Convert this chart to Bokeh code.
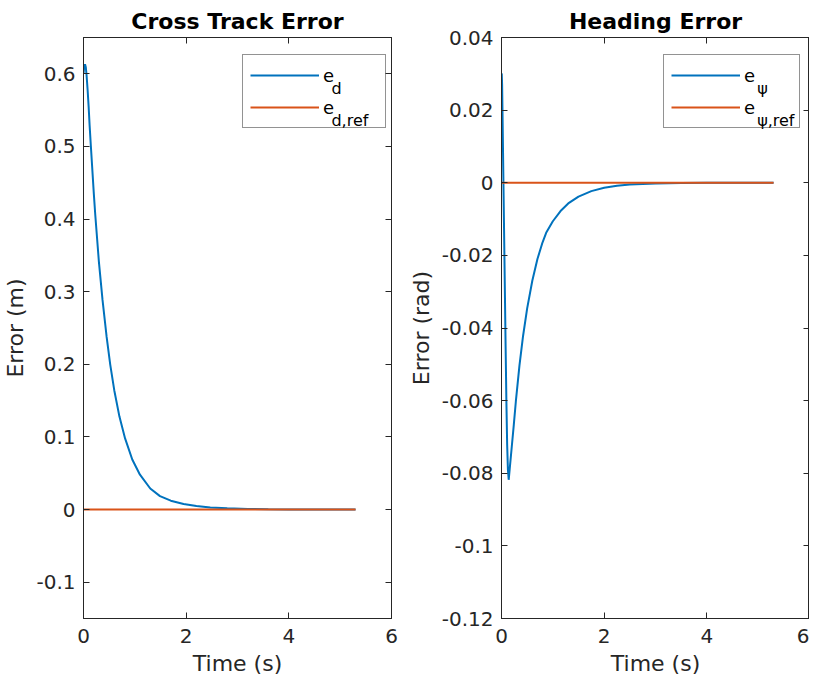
from bokeh.plotting import figure
from bokeh.models import Range1d, FixedTicker, LinearAxis, Legend, LegendItem, Label
from bokeh.layouts import row
from bokeh.embed import file_html
from bokeh.resources import INLINE

# ---------------- data ----------------
time_d = [0, 0.01, 0.02, 0.03, 0.045, 0.06, 0.08, 0.10, 0.12, 0.144, 0.2, 0.228, 0.3,
          0.37, 0.45, 0.52, 0.6, 0.7, 0.81, 0.95, 1.1, 1.3, 1.49, 1.7, 1.95, 2.2, 2.47,
          2.8, 3.2, 3.6, 4.0, 4.5, 5.0, 5.3]
e_d = [0.600, 0.607, 0.611, 0.613, 0.609, 0.598, 0.578, 0.555, 0.528, 0.500, 0.436, 0.407,
       0.341, 0.289, 0.238, 0.200, 0.164, 0.128, 0.098, 0.069, 0.048, 0.029, 0.0185,
       0.0122, 0.0076, 0.0048, 0.003, 0.0017, 0.0008, 0.0004, 0.0002, 0.0001, 0.00005,
       0.00003]

time_psi = [0, 0.005, 0.012, 0.02, 0.035, 0.05, 0.065, 0.08, 0.095, 0.11, 0.125, 0.14,
            0.16, 0.2, 0.24, 0.279, 0.35, 0.42, 0.5, 0.6, 0.7, 0.8, 0.87, 1.0, 1.15, 1.3,
            1.5, 1.75, 2.0, 2.25, 2.5, 3.0, 3.5, 4.0, 4.5, 5.0, 5.3]
e_psi = [0.0300, 0.0300, 0.027, 0.019, 0.003, -0.013, -0.029, -0.045, -0.060, -0.072,
         -0.079, -0.0818, -0.0788, -0.0727, -0.0666, -0.0603, -0.0503, -0.0422, -0.0346,
         -0.0270, -0.0210, -0.0164, -0.0138, -0.0106, -0.0078, -0.0057, -0.0038, -0.0023,
         -0.0014, -0.0008, -0.0005, -0.00018, -0.00006, -0.00002, -0.00001, 0.0, 0.0]

time_ref = [0, 5.3]
e_ref = [0, 0]

x_ticks = [0, 2, 4, 6]
x_labels = ["0", "2", "4", "6"]
yd_ticks = [-0.1, 0.0, 0.1, 0.2, 0.3, 0.4, 0.5, 0.6]
yd_labels = ["-0.1", "0", "0.1", "0.2", "0.3", "0.4", "0.5", "0.6"]
ypsi_ticks = [-0.12, -0.1, -0.08, -0.06, -0.04, -0.02, 0.0, 0.02, 0.04]
ypsi_labels = ["-0.12", "-0.1", "-0.08", "-0.06", "-0.04", "-0.02", "0", "0.02", "0.04"]

BLUE = "#0072BD"
ORANGE = "#D95319"
AX = "#262626"
FONT = "DejaVu Sans"


def style_axis(ax, ticks, labels, show_labels=True, standoff=8):
    ax.ticker = FixedTicker(ticks=ticks)
    ax.major_tick_in = 6
    ax.major_tick_out = 0
    ax.minor_tick_in = 0
    ax.minor_tick_out = 0
    ax.axis_line_color = AX
    ax.major_tick_line_color = AX
    ax.major_label_text_color = AX
    ax.major_label_text_font = FONT
    ax.axis_label_text_font = FONT
    ax.axis_label_text_font_style = "normal"
    ax.axis_label_text_color = AX
    ax.axis_label_text_font_size = "22px"
    if show_labels:
        ax.major_label_overrides = {t: l for t, l in zip(ticks, labels)}
        ax.major_label_text_font_size = "20px"
        ax.major_label_standoff = standoff
        ax.axis_label_standoff = 5
    else:
        ax.major_label_overrides = {t: "" for t in ticks}
        ax.major_label_text_font_size = "0px"
        ax.major_label_standoff = 0


def make_plot(title, t, v, ylabel, yrange, yticks, ylabels, mb_left, mb_right,
              leg_loc, label_width, subs):
    p = figure(frame_width=308, frame_height=581, output_backend="svg",
               toolbar_location=None, x_range=Range1d(0, 6),
               y_range=Range1d(*yrange), min_border_left=mb_left,
               min_border_right=mb_right, min_border_top=37, min_border_bottom=56)
    p.title.text = title
    p.title.text_font = FONT
    p.title.text_font_size = "22px"
    p.title.text_font_style = "bold"
    p.title.align = "center"
    p.title.text_color = "#000000"
    p.title.standoff = 8
    p.xgrid.visible = False
    p.ygrid.visible = False
    p.outline_line_color = AX
    p.outline_line_alpha = 1
    p.background_fill_color = "white"
    p.border_fill_color = "white"

    style_axis(p.xaxis[0], x_ticks, x_labels, standoff=10)
    p.xaxis[0].axis_label = "Time (s)"
    style_axis(p.yaxis[0], yticks, ylabels, standoff=8)
    p.yaxis[0].axis_label = ylabel

    top = LinearAxis()
    style_axis(top, x_ticks, x_labels, show_labels=False)
    p.add_layout(top, "above")
    right = LinearAxis()
    style_axis(right, yticks, ylabels, show_labels=False)
    p.add_layout(right, "right")

    r1 = p.line(t, v, line_color=BLUE, line_width=2)
    r2 = p.line(time_ref, e_ref, line_color=ORANGE, line_width=2)

    leg = Legend(items=[LegendItem(label="e", renderers=[r1]),
                        LegendItem(label="e", renderers=[r2])],
                 location=leg_loc, margin=0, padding=7, spacing=6,
                 glyph_width=69, glyph_height=26, label_height=26,
                 label_width=label_width, label_standoff=4,
                 border_line_color=AX, border_line_width=1,
                 background_fill_color="white", background_fill_alpha=0,
                 label_text_font=FONT, label_text_font_size="18px",
                 label_text_color="#000000")
    p.add_layout(leg)

    for (sx, sy, stext) in subs:
        p.add_layout(Label(x=sx, y=sy, text=stext, text_font=FONT,
                           text_font_size="16px", text_baseline="alphabetic",
                           text_align="left", text_color="#000000",
                           level="overlay"))
    return p


p1 = make_plot("Cross Track Error", time_d, e_d, "Error (m)", (-0.15, 0.65),
               yd_ticks, yd_labels, 75, 13, (159, 490), 55,
               [(4.83, 0.5798, "d"), (4.83, 0.5351, "d,ref")])
p2 = make_plot("Heading Error", time_psi, e_psi, "Error (rad)", (-0.12, 0.04),
               ypsi_ticks, ypsi_labels, 97, 0, (162, 490), 48,
               [(4.98, 0.02597, "ψ"), (4.98, 0.01702, "ψ,ref")])

layout = row(p1, p2)
open("out.html", "w").write(file_html(layout, INLINE))
